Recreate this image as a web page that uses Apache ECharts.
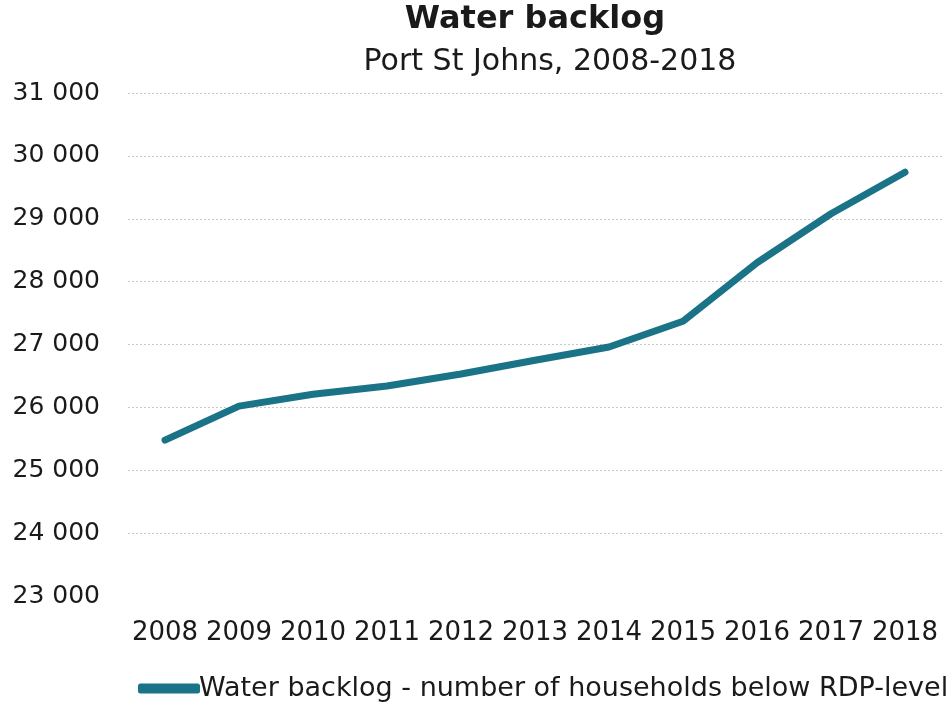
<!DOCTYPE html>
<html>
<head>
<meta charset="utf-8">
<script src="https://cdn.jsdelivr.net/npm/echarts@6/dist/echarts.min.js"></script>
<style>
html,body{margin:0;padding:0;background:#fff;}
#chart{width:948px;height:706px;}
</style>
</head>
<body>
<div id="chart"></div>
<script>
const titleText = 'Water backlog';
const subtitleText = 'Port St Johns, 2008-2018';
const seriesName = 'Water backlog - number of households below RDP-level';
const years = ['2008','2009','2010','2011','2012','2013','2014','2015','2016','2017','2018'];
const backlog = [25480, 26020, 26210, 26340, 26530, 26750, 26960, 27370, 28300, 29080, 29740];
const yMin = 23000, yMax = 31000, yStep = 1000;

const font = 'DejaVu Sans, Verdana, sans-serif';
const chart = echarts.init(document.getElementById('chart'));
const gridColors = ['rgba(0,0,0,0)'].concat(Array(8).fill('#c8c8c8'));
chart.setOption({
  animation: false,
  backgroundColor: '#fff',
  title: [
    {text: titleText, left: 530, textAlign: 'center', top: -1,
     textStyle: {fontFamily: font, fontWeight: 'bold', fontSize: 32, color: '#1a1a1a'}},
    {text: subtitleText, left: 545, textAlign: 'center', top: 42,
     textStyle: {fontFamily: font, fontWeight: 'normal', fontSize: 30, color: '#1a1a1a'}}
  ],
  grid: {left: 128, right: 6, top: 93, bottom: 110, containLabel: false},
  legend: {
    left: 133, top: 670, itemWidth: 62, itemHeight: 10, itemGap: 0,
    icon: 'roundRect',
    textStyle: {fontFamily: font, fontSize: 27, color: '#1a1a1a', padding: [0,0,0,-6]},
    data: [seriesName]
  },
  xAxis: {
    type: 'category', data: years, boundaryGap: true,
    axisLine: {show: false}, axisTick: {show: false},
    axisLabel: {fontFamily: font, fontSize: 26, color: '#1a1a1a', margin: 24,
      interval: 0, hideOverlap: false}
  },
  yAxis: {
    type: 'value', min: yMin, max: yMax, interval: yStep,
    axisLine: {show: false}, axisTick: {show: false},
    axisLabel: {fontFamily: font, fontSize: 25, color: '#1a1a1a', margin: 28,
      formatter: v => String(v).replace(/\B(?=(\d{3})+(?!\d))/g, ' ')},
    splitLine: {show: true, lineStyle: {color: gridColors, type: [2, 2], width: 1}}
  },
  series: [{
    name: seriesName, type: 'line', data: backlog,
    symbol: 'none', smooth: false,
    lineStyle: {color: '#1a7386', width: 7, cap: 'round', join: 'round'},
    itemStyle: {color: '#1a7386'}
  }]
});
</script>
</body>
</html>
